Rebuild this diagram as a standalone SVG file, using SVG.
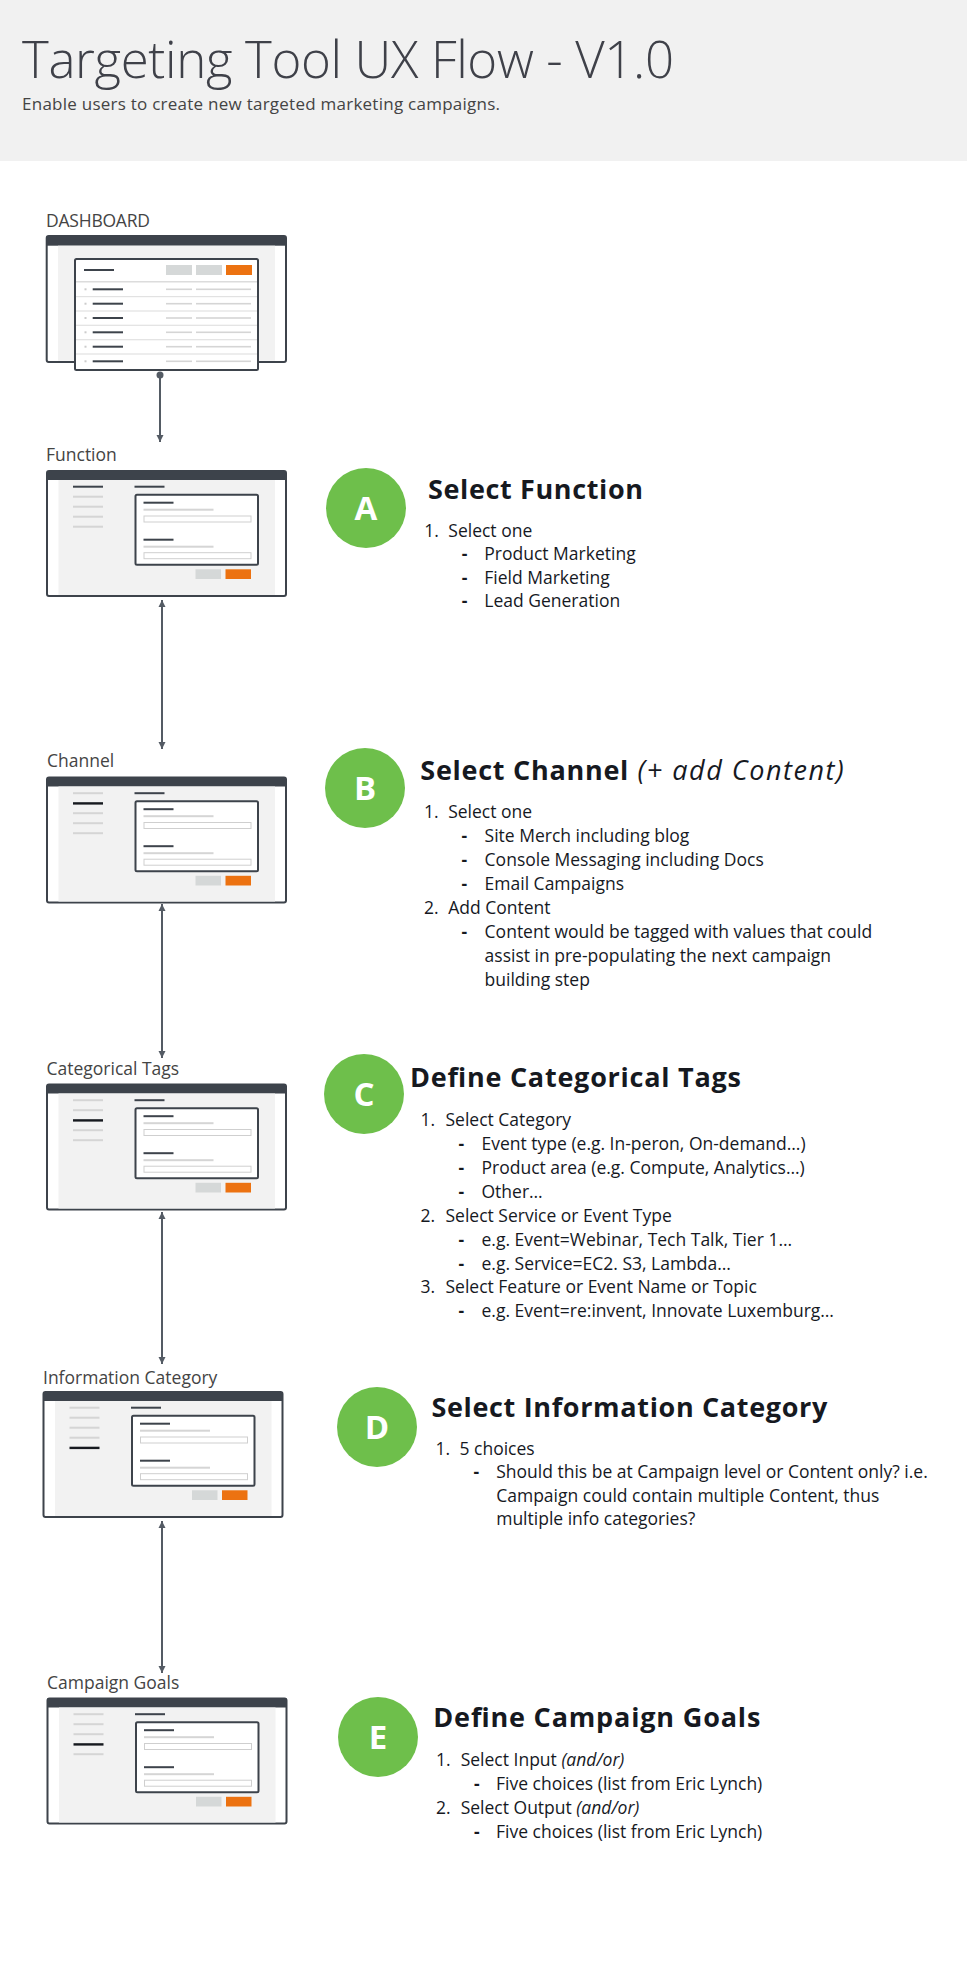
<svg xmlns="http://www.w3.org/2000/svg" xmlns:xlink="http://www.w3.org/1999/xlink" width="967" height="1968" viewBox="0 0 967 1968">
<style>
.title{font-family:"Open Sans","Liberation Sans",sans-serif;font-weight:300;font-size:51px;fill:#3f4149}
.sub{font-family:"Open Sans","Liberation Sans",sans-serif;font-size:17px;fill:#444}
.lbl{font-family:"Open Sans","Liberation Sans",sans-serif;font-size:17.5px;fill:#444}
.h{font-family:"Open Sans","Liberation Sans",sans-serif;font-weight:bold;font-size:27px;fill:#16191f}
.hi{font-family:"Open Sans","Liberation Sans",sans-serif;font-weight:normal;font-style:italic;font-size:27px;fill:#16191f}
.t{font-family:"Open Sans","Liberation Sans",sans-serif;font-size:17.5px;fill:#16191f}
.b{font-family:"Open Sans","Liberation Sans",sans-serif;font-size:17.5px;font-weight:bold;fill:#16191f}
.it{font-style:italic}
.letter{font-family:"Open Sans","Liberation Sans",sans-serif;font-weight:bold;font-size:33px;fill:#fff;text-anchor:middle}
.circ{fill:#6ebf4b}
.frame{fill:#fff;stroke:#3d434b;stroke-width:2}
.bar{fill:#3d434b}
.gray{fill:#f2f2f2}
.dk{fill:#3d434b}
.act{fill:#16191f}
.lt{fill:#d5d5d5}
.inp{fill:#fff;stroke:#cfcfcf;stroke-width:1}
.btn{fill:#d5d8d8}
.org{fill:#ec7211}
.conn{stroke:#545b64;stroke-width:2;fill:none}
</style>
<defs>
<marker id="arr" markerUnits="userSpaceOnUse" markerWidth="8" markerHeight="8" refX="7" refY="4" orient="auto-start-reverse">
<path d="M0,0.5 L7,4 L0,7.5 z" fill="#545b64"/>
</marker>
<g id="screen">
<rect class="frame" x="0" y="0" width="239" height="125" rx="2"/>
<rect class="bar" x="0" y="0" width="239" height="9"/>
<rect class="gray" x="11.5" y="9" width="216.5" height="115"/>
<rect class="dk" x="87.5" y="14.7" width="30" height="2"/>
<rect class="frame" x="88.5" y="23.7" width="122.5" height="70" rx="1.5"/>
<rect class="dk" x="96.5" y="30.7" width="30" height="2"/>
<rect class="lt" x="96.5" y="37.7" width="70" height="2"/>
<rect class="inp" x="97" y="45" width="107" height="6"/>
<rect class="dk" x="96.5" y="67.7" width="30" height="2"/>
<rect class="lt" x="96.5" y="74.7" width="70" height="2"/>
<rect class="inp" x="97" y="81.7" width="107" height="6"/>
<rect class="btn" x="148.5" y="98.3" width="25.5" height="9.7"/>
<rect class="org" x="178.5" y="98.3" width="25.5" height="9.7"/>
</g>
</defs>

<g id="header">
<rect x="0" y="0" width="967" height="161" fill="#f1f1f1"/>
<text class="title" x="22" y="78" textLength="652">Targeting Tool UX Flow - V1.0</text>
<text class="sub" x="22" y="110" textLength="478">Enable users to create new targeted marketing campaigns.</text>
</g>

<g id="connectors">
<circle cx="160" cy="375" r="3.5" fill="#545b64"/>
<line class="conn" x1="160" y1="375" x2="160" y2="442" marker-end="url(#arr)"/>
<line class="conn" x1="162" y1="600" x2="162" y2="749" marker-start="url(#arr)" marker-end="url(#arr)"/>
<line class="conn" x1="162" y1="904" x2="162" y2="1058" marker-start="url(#arr)" marker-end="url(#arr)"/>
<line class="conn" x1="162" y1="1212" x2="162" y2="1364" marker-start="url(#arr)" marker-end="url(#arr)"/>
<line class="conn" x1="162" y1="1521" x2="162" y2="1673" marker-start="url(#arr)" marker-end="url(#arr)"/>
</g>

<g id="dashboard">
<text class="lbl" x="46" y="227" font-size="16" textLength="104">DASHBOARD</text>
<rect class="frame" x="46.7" y="236" width="239.3" height="126" rx="2"/>
<rect class="bar" x="46.7" y="236" width="239.3" height="9.7"/>
<rect class="gray" x="58" y="245.7" width="217" height="115"/>
<rect class="frame" x="75" y="259" width="183" height="111" rx="1.5"/>
<rect class="dk" x="84" y="269" width="30" height="2"/>
<rect class="btn" x="166" y="265" width="26" height="10"/>
<rect class="btn" x="196" y="265" width="26" height="10"/>
<rect class="org" x="226" y="265" width="26" height="10"/>
<rect x="76" y="281" width="181" height="1.5" fill="#dcdcdc"/>
<g fill="#e2e2e2">
<rect x="76" y="296" width="181" height="1.2"/>
<rect x="76" y="310.4" width="181" height="1.2"/>
<rect x="76" y="324.7" width="181" height="1.2"/>
<rect x="76" y="339.1" width="181" height="1.2"/>
<rect x="76" y="353.4" width="181" height="1.2"/>
</g>
<g id="rows">
<g transform="translate(0,289.3)"><rect x="84.5" y="-1" width="2" height="2" fill="#ccc"/><rect class="dk" x="92.7" y="-1" width="30.3" height="2"/><rect class="lt" x="166" y="-0.8" width="26" height="1.6"/><rect class="lt" x="196" y="-0.8" width="55" height="1.6"/></g>
<g transform="translate(0,303.7)"><rect x="84.5" y="-1" width="2" height="2" fill="#ccc"/><rect class="dk" x="92.7" y="-1" width="30.3" height="2"/><rect class="lt" x="166" y="-0.8" width="26" height="1.6"/><rect class="lt" x="196" y="-0.8" width="55" height="1.6"/></g>
<g transform="translate(0,318)"><rect x="84.5" y="-1" width="2" height="2" fill="#ccc"/><rect class="dk" x="92.7" y="-1" width="30.3" height="2"/><rect class="lt" x="166" y="-0.8" width="26" height="1.6"/><rect class="lt" x="196" y="-0.8" width="55" height="1.6"/></g>
<g transform="translate(0,332.3)"><rect x="84.5" y="-1" width="2" height="2" fill="#ccc"/><rect class="dk" x="92.7" y="-1" width="30.3" height="2"/><rect class="lt" x="166" y="-0.8" width="26" height="1.6"/><rect class="lt" x="196" y="-0.8" width="55" height="1.6"/></g>
<g transform="translate(0,346.7)"><rect x="84.5" y="-1" width="2" height="2" fill="#ccc"/><rect class="dk" x="92.7" y="-1" width="30.3" height="2"/><rect class="lt" x="166" y="-0.8" width="26" height="1.6"/><rect class="lt" x="196" y="-0.8" width="55" height="1.6"/></g>
<g transform="translate(0,361.3)"><rect x="84.5" y="-1" width="2" height="2" fill="#ccc"/><rect class="dk" x="92.7" y="-1" width="30.3" height="2"/><rect class="lt" x="166" y="-0.8" width="26" height="1.6"/><rect class="lt" x="196" y="-0.8" width="55" height="1.6"/></g>
</g>
</g>

<g id="function">
<text class="lbl" x="46" y="461">Function</text>
<g transform="translate(47,471)">
<use xlink:href="#screen" href="#screen"/>
<rect class="dk" x="26" y="14.7" width="30" height="2"/>
<rect class="lt" x="26" y="24.7" width="30" height="2"/>
<rect class="lt" x="26" y="34.7" width="30" height="2"/>
<rect class="lt" x="26" y="44.7" width="30" height="2"/>
<rect class="lt" x="26" y="54.7" width="30" height="2"/>
</g>
</g>

<g id="channel">
<text class="lbl" x="47" y="767">Channel</text>
<g transform="translate(47,777.5)">
<use xlink:href="#screen" href="#screen"/>
<rect class="lt" x="26" y="14.7" width="30" height="2"/>
<rect class="act" x="26" y="24.7" width="30" height="2.4"/>
<rect class="lt" x="26" y="34.7" width="30" height="2"/>
<rect class="lt" x="26" y="44.7" width="30" height="2"/>
<rect class="lt" x="26" y="54.7" width="30" height="2"/>
</g>
</g>

<g id="categorical">
<text class="lbl" x="46.5" y="1075">Categorical Tags</text>
<g transform="translate(47,1084.5)">
<use xlink:href="#screen" href="#screen"/>
<rect class="lt" x="26" y="14.7" width="30" height="2"/>
<rect class="lt" x="26" y="24.7" width="30" height="2"/>
<rect class="act" x="26" y="34.7" width="30" height="2.4"/>
<rect class="lt" x="26" y="44.7" width="30" height="2"/>
<rect class="lt" x="26" y="54.7" width="30" height="2"/>
</g>
</g>

<g id="information">
<text class="lbl" x="43" y="1383.5">Information Category</text>
<g transform="translate(43.5,1392)">
<use xlink:href="#screen" href="#screen"/>
<rect class="lt" x="26" y="14.7" width="30" height="2"/>
<rect class="lt" x="26" y="24.7" width="30" height="2"/>
<rect class="lt" x="26" y="34.7" width="30" height="2"/>
<rect class="lt" x="26" y="44.7" width="30" height="2"/>
<rect class="act" x="26" y="54.7" width="30" height="2.4"/>
</g>
</g>

<g id="goals">
<text class="lbl" x="47" y="1688.5">Campaign Goals</text>
<g transform="translate(47.5,1698.5)">
<use xlink:href="#screen" href="#screen"/>
<rect class="lt" x="26" y="14.7" width="30" height="2"/>
<rect class="lt" x="26" y="24.7" width="30" height="2"/>
<rect class="lt" x="26" y="34.7" width="30" height="2"/>
<rect class="act" x="26" y="44.7" width="30" height="2.4"/>
<rect class="lt" x="26" y="54.7" width="30" height="2"/>
</g>
</g>

<g id="stepA">
<circle class="circ" cx="366" cy="508" r="40"/>
<text class="letter" x="366" y="520">A</text>
<text class="h" x="428" y="499" textLength="215">Select Function</text>
<text class="t" x="424.3" y="536.7">1.</text><text class="t" x="448.3" y="536.7">Select one</text>
<text class="b" x="461.7" y="560">-</text><text class="t" x="484.3" y="560">Product Marketing</text>
<text class="b" x="461.7" y="583.5">-</text><text class="t" x="484.3" y="583.5">Field Marketing</text>
<text class="b" x="461.7" y="607.3">-</text><text class="t" x="484.3" y="607.3">Lead Generation</text>
</g>

<g id="stepB">
<circle class="circ" cx="365" cy="788" r="40"/>
<text class="letter" x="365" y="800">B</text>
<text class="h" x="420.3" y="780" textLength="208">Select Channel</text>
<text class="hi" x="637.6" y="780" textLength="206">(+ add Content)</text>
<text class="t" x="424" y="818.3">1.</text><text class="t" x="448.2" y="818.3">Select one</text>
<text class="b" x="461.6" y="841.7">-</text><text class="t" x="484.6" y="841.7">Site Merch including blog</text>
<text class="b" x="461.6" y="865.7">-</text><text class="t" x="484.6" y="865.7">Console Messaging including Docs</text>
<text class="b" x="461.6" y="890">-</text><text class="t" x="484.6" y="890">Email Campaigns</text>
<text class="t" x="424" y="914">2.</text><text class="t" x="448.2" y="914">Add Content</text>
<text class="b" x="461.6" y="938.3">-</text><text class="t" x="484.6" y="938.3">Content would be tagged with values that could</text>
<text class="t" x="484.6" y="962.3">assist in pre-populating the next campaign</text>
<text class="t" x="484.6" y="986">building step</text>
</g>

<g id="stepC">
<circle class="circ" cx="364" cy="1094" r="40"/>
<text class="letter" x="364" y="1106">C</text>
<text class="h" x="410" y="1086.7" textLength="331">Define Categorical Tags</text>
<text class="t" x="420.6" y="1126">1.</text><text class="t" x="445.5" y="1126">Select Category</text>
<text class="b" x="458.5" y="1150">-</text><text class="t" x="481.5" y="1150">Event type (e.g. In-peron, On-demand…)</text>
<text class="b" x="458.5" y="1174">-</text><text class="t" x="481.5" y="1174">Product area (e.g. Compute, Analytics…)</text>
<text class="b" x="458.5" y="1197.7">-</text><text class="t" x="481.5" y="1197.7">Other…</text>
<text class="t" x="420.6" y="1221.7">2.</text><text class="t" x="445.5" y="1221.7">Select Service or Event Type</text>
<text class="b" x="458.5" y="1246">-</text><text class="t" x="481.5" y="1246">e.g. Event=Webinar, Tech Talk, Tier 1…</text>
<text class="b" x="458.5" y="1269.5">-</text><text class="t" x="481.5" y="1269.5">e.g. Service=EC2. S3, Lambda…</text>
<text class="t" x="420.6" y="1293.3">3.</text><text class="t" x="445.5" y="1293.3">Select Feature or Event Name or Topic</text>
<text class="b" x="458.5" y="1317.3">-</text><text class="t" x="481.5" y="1317.3">e.g. Event=re:invent, Innovate Luxemburg…</text>
</g>

<g id="stepD">
<circle class="circ" cx="377" cy="1427" r="40"/>
<text class="letter" x="377" y="1439">D</text>
<text class="h" x="431.4" y="1416.7" textLength="396">Select Information Category</text>
<text class="t" x="435.6" y="1455">1.</text><text class="t" x="459.5" y="1455">5 choices</text>
<text class="b" x="473.5" y="1478.3">-</text><text class="t" x="496.2" y="1478.3">Should this be at Campaign level or Content only? i.e.</text>
<text class="t" x="496.2" y="1501.7">Campaign could contain multiple Content, thus</text>
<text class="t" x="496.2" y="1525">multiple info categories?</text>
</g>

<g id="stepE">
<circle class="circ" cx="378" cy="1737" r="40"/>
<text class="letter" x="378" y="1749">E</text>
<text class="h" x="433.3" y="1726.7" textLength="327">Define Campaign Goals</text>
<text class="t" x="436" y="1766">1.</text><text class="t" x="460.7" y="1766">Select Input <tspan class="it">(and/or)</tspan></text>
<text class="b" x="474" y="1790">-</text><text class="t" x="496" y="1790">Five choices (list from Eric Lynch)</text>
<text class="t" x="436" y="1814">2.</text><text class="t" x="460.7" y="1814">Select Output <tspan class="it">(and/or)</tspan></text>
<text class="b" x="474" y="1837.7">-</text><text class="t" x="496" y="1837.7">Five choices (list from Eric Lynch)</text>
</g>
</svg>
